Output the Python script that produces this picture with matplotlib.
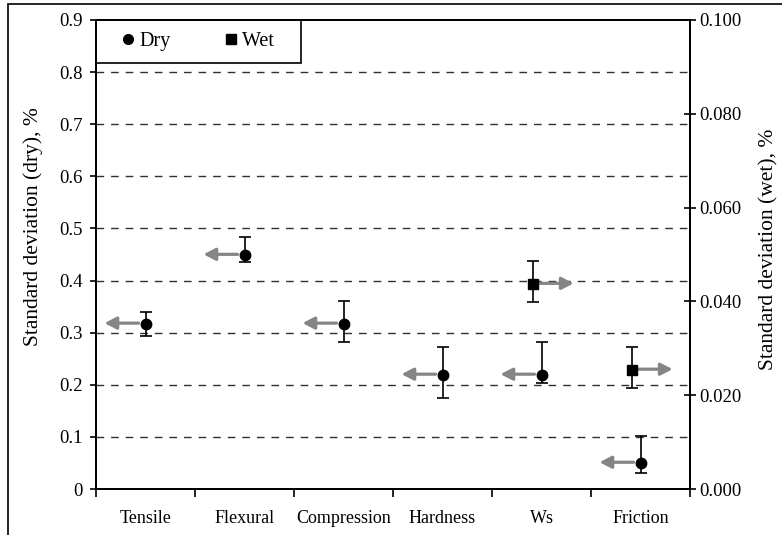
import matplotlib.pyplot as plt
from matplotlib.patches import Rectangle
from matplotlib.lines import Line2D
from matplotlib.transforms import offset_copy

plt.rcParams['font.family'] = ['Liberation Serif', 'DejaVu Serif']

# Categories and values
categories = ['Tensile', 'Flexural', 'Compression', 'Hardness', 'Ws', 'Friction']

dry_mean = [0.317, 0.449, 0.317, 0.219, 0.219, 0.050]
dry_upper = [0.340, 0.483, 0.361, 0.273, 0.282, 0.102]
dry_lower = [0.294, 0.436, 0.282, 0.175, 0.203, 0.030]

wet_cats = ['Ws', 'Friction']
wet_mean = [0.0437, 0.0254]
wet_upper = [0.0486, 0.0303]
wet_lower = [0.0399, 0.0215]

left_ticks = [0, 0.1, 0.2, 0.3, 0.4, 0.5, 0.6, 0.7, 0.8, 0.9]
left_labels = ['0', '0.1', '0.2', '0.3', '0.4', '0.5', '0.6', '0.7', '0.8', '0.9']
right_ticks = [0.0, 0.02, 0.04, 0.06, 0.08, 0.10]
right_labels = ['0.000', '0.020', '0.040', '0.060', '0.080', '0.100']

fig = plt.figure(figsize=(7.82, 5.35), dpi=100)
ax = fig.add_axes([96 / 782, 46 / 535, 594 / 782, 469 / 535])
ax2 = ax.twinx()

# outer chart frame (cut off on the right / bottom like the source)
fig.patches.append(Rectangle((8 / 782, -0.2), 1.5, 0.2 + 531 / 535, transform=fig.transFigure,
                             fill=False, edgecolor='black', linewidth=1.2))

# dashed gridlines
for yv in left_ticks[1:-1]:
    ax.axhline(yv, color='#303030', linewidth=1.0, dashes=(5.5, 5), zorder=1)

xs = [i + 0.5 for i in range(len(categories))]
dry_err = [[m - lo for m, lo in zip(dry_mean, dry_lower)],
           [up - m for m, up in zip(dry_mean, dry_upper)]]
ax.errorbar(xs, dry_mean, yerr=dry_err, fmt='o', color='black', markersize=7.5,
            ecolor='black', elinewidth=1.2, capsize=4.5, capthick=1.2, zorder=5)

wx = [categories.index(c) + 0.5 - 0.09 for c in wet_cats]
wet_err = [[m - lo for m, lo in zip(wet_mean, wet_lower)],
           [up - m for m, up in zip(wet_mean, wet_upper)]]
ax2.errorbar(wx, wet_mean, yerr=wet_err, fmt='s', color='black', markersize=7,
             ecolor='black', elinewidth=1.2, capsize=4.5, capthick=1.2, zorder=5)

ax.set_xlim(0, 6)
ax.set_ylim(0, 0.9)
ax2.set_ylim(0, 0.1)

# gray arrows pointing from each marker to its own axis
arrow = dict(arrowstyle='-|>,head_length=0.5,head_width=0.26', color='#858585',
             lw=2.3, mutation_scale=14, shrinkA=0, shrinkB=0)
for x, y in zip(xs, dry_mean):
    tip = offset_copy(ax.transData, fig=fig, x=-29.5, y=0.5, units='points')
    tail = offset_copy(ax.transData, fig=fig, x=-5, y=0.5, units='points')
    ax.annotate('', xy=(x, y), xycoords=tip, xytext=(x, y), textcoords=tail,
                arrowprops=arrow)
for x, y in zip(wx, wet_mean):
    tip = offset_copy(ax2.transData, fig=fig, x=29.5, y=0.5, units='points')
    tail = offset_copy(ax2.transData, fig=fig, x=5, y=0.5, units='points')
    ax2.annotate('', xy=(x, y), xycoords=tip, xytext=(x, y), textcoords=tail,
                 arrowprops=arrow)

ax.set_xticks(range(7))
ax.set_xticklabels([])
ax.set_xticks(xs, minor=True)
ax.set_xticklabels(categories, minor=True, fontsize=13)
ax.tick_params(axis='x', which='major', direction='out', length=6, width=1.2)
ax.tick_params(axis='x', which='minor', length=0, pad=15)

ax.set_yticks(left_ticks)
ax.set_yticklabels(left_labels, fontsize=13.5)
ax.tick_params(axis='y', direction='out', length=4.5, width=1.2, pad=5)
ax2.set_yticks(right_ticks)
ax2.set_yticklabels(right_labels, fontsize=13.5)
ax2.tick_params(axis='y', direction='inout', length=8, width=1.2, pad=3)

for a in (ax, ax2):
    for s in a.spines.values():
        s.set_linewidth(1.4)
        s.set_color('black')

ax.set_ylabel('Standard deviation (dry), %', fontsize=15.5)
ax.yaxis.set_label_coords(-0.089, 0.559)
ax2.set_ylabel('Standard deviation (wet), %', fontsize=15.5)
ax2.yaxis.set_label_coords(1.117, 0.51)

handles = [Line2D([], [], marker='o', color='black', linestyle='none', markersize=7),
           Line2D([], [], marker='s', color='black', linestyle='none', markersize=6.5)]
leg = ax.legend(handles, ['Dry', 'Wet\u00a0\u00a0\u00a0'], loc='upper left', bbox_to_anchor=(0, 1),
                borderaxespad=0, ncol=2, fontsize=14.5, frameon=True, fancybox=False,
                edgecolor='black', framealpha=1, handletextpad=-0.45, columnspacing=2.0,
                handlelength=2.0, borderpad=0.6)
leg.get_frame().set_linewidth(1.2)
leg.set_zorder(10)

fig.savefig('out.png', dpi=100)
